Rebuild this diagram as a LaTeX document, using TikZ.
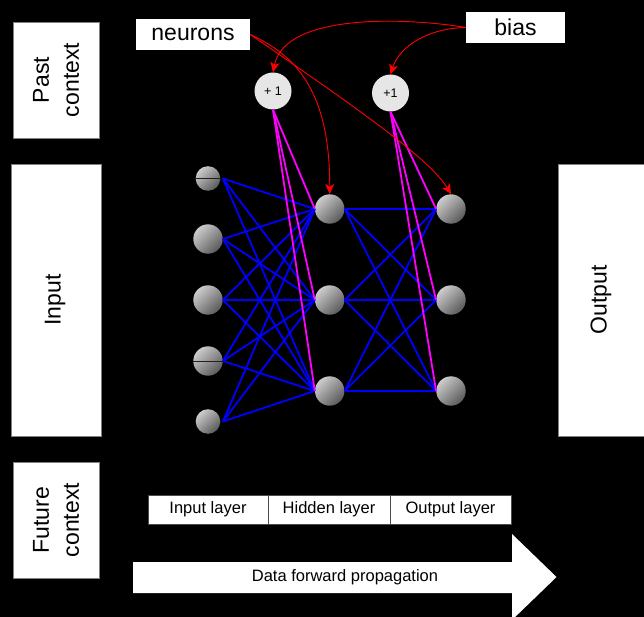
\documentclass[tikz,border=0pt]{standalone}
\usepackage{fontspec}
\setmainfont{Liberation Sans}
\usetikzlibrary{arrows.meta}
\definecolor{linkblue}{RGB}{0,0,255}
\definecolor{biasmag}{RGB}{255,0,255}
\definecolor{notered}{RGB}{255,0,0}
\definecolor{unitfill}{RGB}{230,230,230}

\begin{document}
\begin{tikzpicture}[x=1pt,y=-1pt,
  panel/.style={draw=gray, line width=0.8pt, fill=white},
  bigtext/.style={font=\fontsize{23}{30}\selectfont, align=center, inner sep=0pt},
  neuron/.style={circle, inner sep=0pt, minimum size=29.4pt,
    shading=axis, top color=gray!40, bottom color=gray!70!black, shading angle=45},
  smallneuron/.style={neuron, minimum size=24.6pt},
  biasnode/.style={circle, inner sep=0pt, minimum size=37pt, fill=unitfill,
    font=\fontsize{12.5}{14}\selectfont},
  tag/.style={fill=white, inner sep=0pt, font=\fontsize{23}{27}\selectfont},
  cell/.style={fill=white, draw=gray!60!black, line width=0.6pt, inner sep=0pt,
    minimum height=29pt, font=\fontsize{16.5}{19}\selectfont},
  wire/.style={linkblue, line width=1.8pt},
  biaswire/.style={biasmag, line width=1.8pt},
  pointer/.style={notered, line width=0.9pt, -{Stealth[length=10pt,width=9pt,inset=2.5pt]}}
]
% canvas
\clip (0,0) rectangle (644,617);
\fill[black] (0,0) rectangle (644,617);
\useasboundingbox (0,0) rectangle (644,617);

% side panels
\draw[panel] (13,22) rectangle (99,138);
\node[bigtext, rotate=90] (past) at (56,80) {Past\\context};
\draw[panel] (11,164) rectangle (101,436);
\node[bigtext, rotate=90] (input) at (55,300) {Input};
\draw[panel] (13,462) rectangle (99,578);
\node[bigtext, rotate=90] (future) at (56,520) {Future\\context};
\draw[panel] (558,164) rectangle (650,436);
\node[bigtext, rotate=90] (output) at (601,300) {Output};

% labels
\node[tag, minimum width=114pt, minimum height=31pt] (neurons) at (193,34.5) {neurons};
\node[tag, minimum width=99pt, minimum height=31pt] (bias) at (515.5,27.5) {bias};

% bias units
\node[biasnode] (b1) at (273,91) {+ 1};
\node[biasnode] (b2) at (390.5,93) {+1};

% input layer
\node[smallneuron] (i1) at (208,178.5) {};
\node[neuron] (i2) at (208,239) {};
\node[neuron] (i3) at (208,300) {};
\node[neuron] (i4) at (208,361) {};
\node[smallneuron] (i5) at (208,421.5) {};
\draw[gray!25!black, line width=0.8pt] (i1.west) -- (i1.east);
\draw[gray!25!black, line width=0.8pt] (i4.west) -- (i4.east);

% hidden layer
\node[neuron] (h1) at (329.7,209) {};
\node[neuron] (h2) at (329.7,300) {};
\node[neuron] (h3) at (329.7,391) {};

% output layer
\node[neuron] (o1) at (451,209) {};
\node[neuron] (o2) at (451,300) {};
\node[neuron] (o3) at (451,391) {};

% weights input -> hidden
\foreach \h in {h1,h2,h3}{
  \draw[wire] ([xshift=2.4pt]i1.east) -- (\h.west);
  \draw[wire] (i2.east) -- (\h.west);
  \draw[wire] (i3.east) -- (\h.west);
  \draw[wire] (i4.east) -- (\h.west);
  \draw[wire] ([xshift=2.4pt]i5.east) -- (\h.west);
}
% weights hidden -> output
\foreach \h in {h1,h2,h3}{
  \foreach \o in {o1,o2,o3}{
    \draw[wire] (\h.east) -- (\o.west);
  }
}
% bias weights
\foreach \h in {h1,h2,h3}{
  \draw[biaswire] (b1.south) -- (\h.west);
}
\foreach \o in {o1,o2,o3}{
  \draw[biaswire] (b2.south) -- (\o.west);
}

% annotation pointers
\draw[pointer] (neurons.east) .. controls (295,55) and (330,90) .. (h1.north);
\draw[pointer] (neurons.east) .. controls (370,117) and (430,160) .. (o1.north);
\draw[pointer] (bias.west) .. controls (410,18) and (285,12) .. (b1.north);
\draw[pointer] (bias.west) .. controls (430,28) and (400,45) .. (b2.north);

% layer captions
\node[cell, minimum width=120pt] (lin) at (208,509.5) {Input layer};
\node[cell, minimum width=122pt] (lhid) at (329,509.5) {Hidden layer};
\node[cell, minimum width=121pt] (lout) at (450.5,509.5) {Output layer};

% propagation arrow
\fill[white] (133,562) -- (512,562) -- (512,534) -- (556.5,577)
  -- (512,620) -- (512,593) -- (133,593) -- cycle;
\node[font=\fontsize{16.5}{19}\selectfont, inner sep=0pt] (flow) at (345,577) {Data forward propagation};
\end{tikzpicture}
\end{document}
